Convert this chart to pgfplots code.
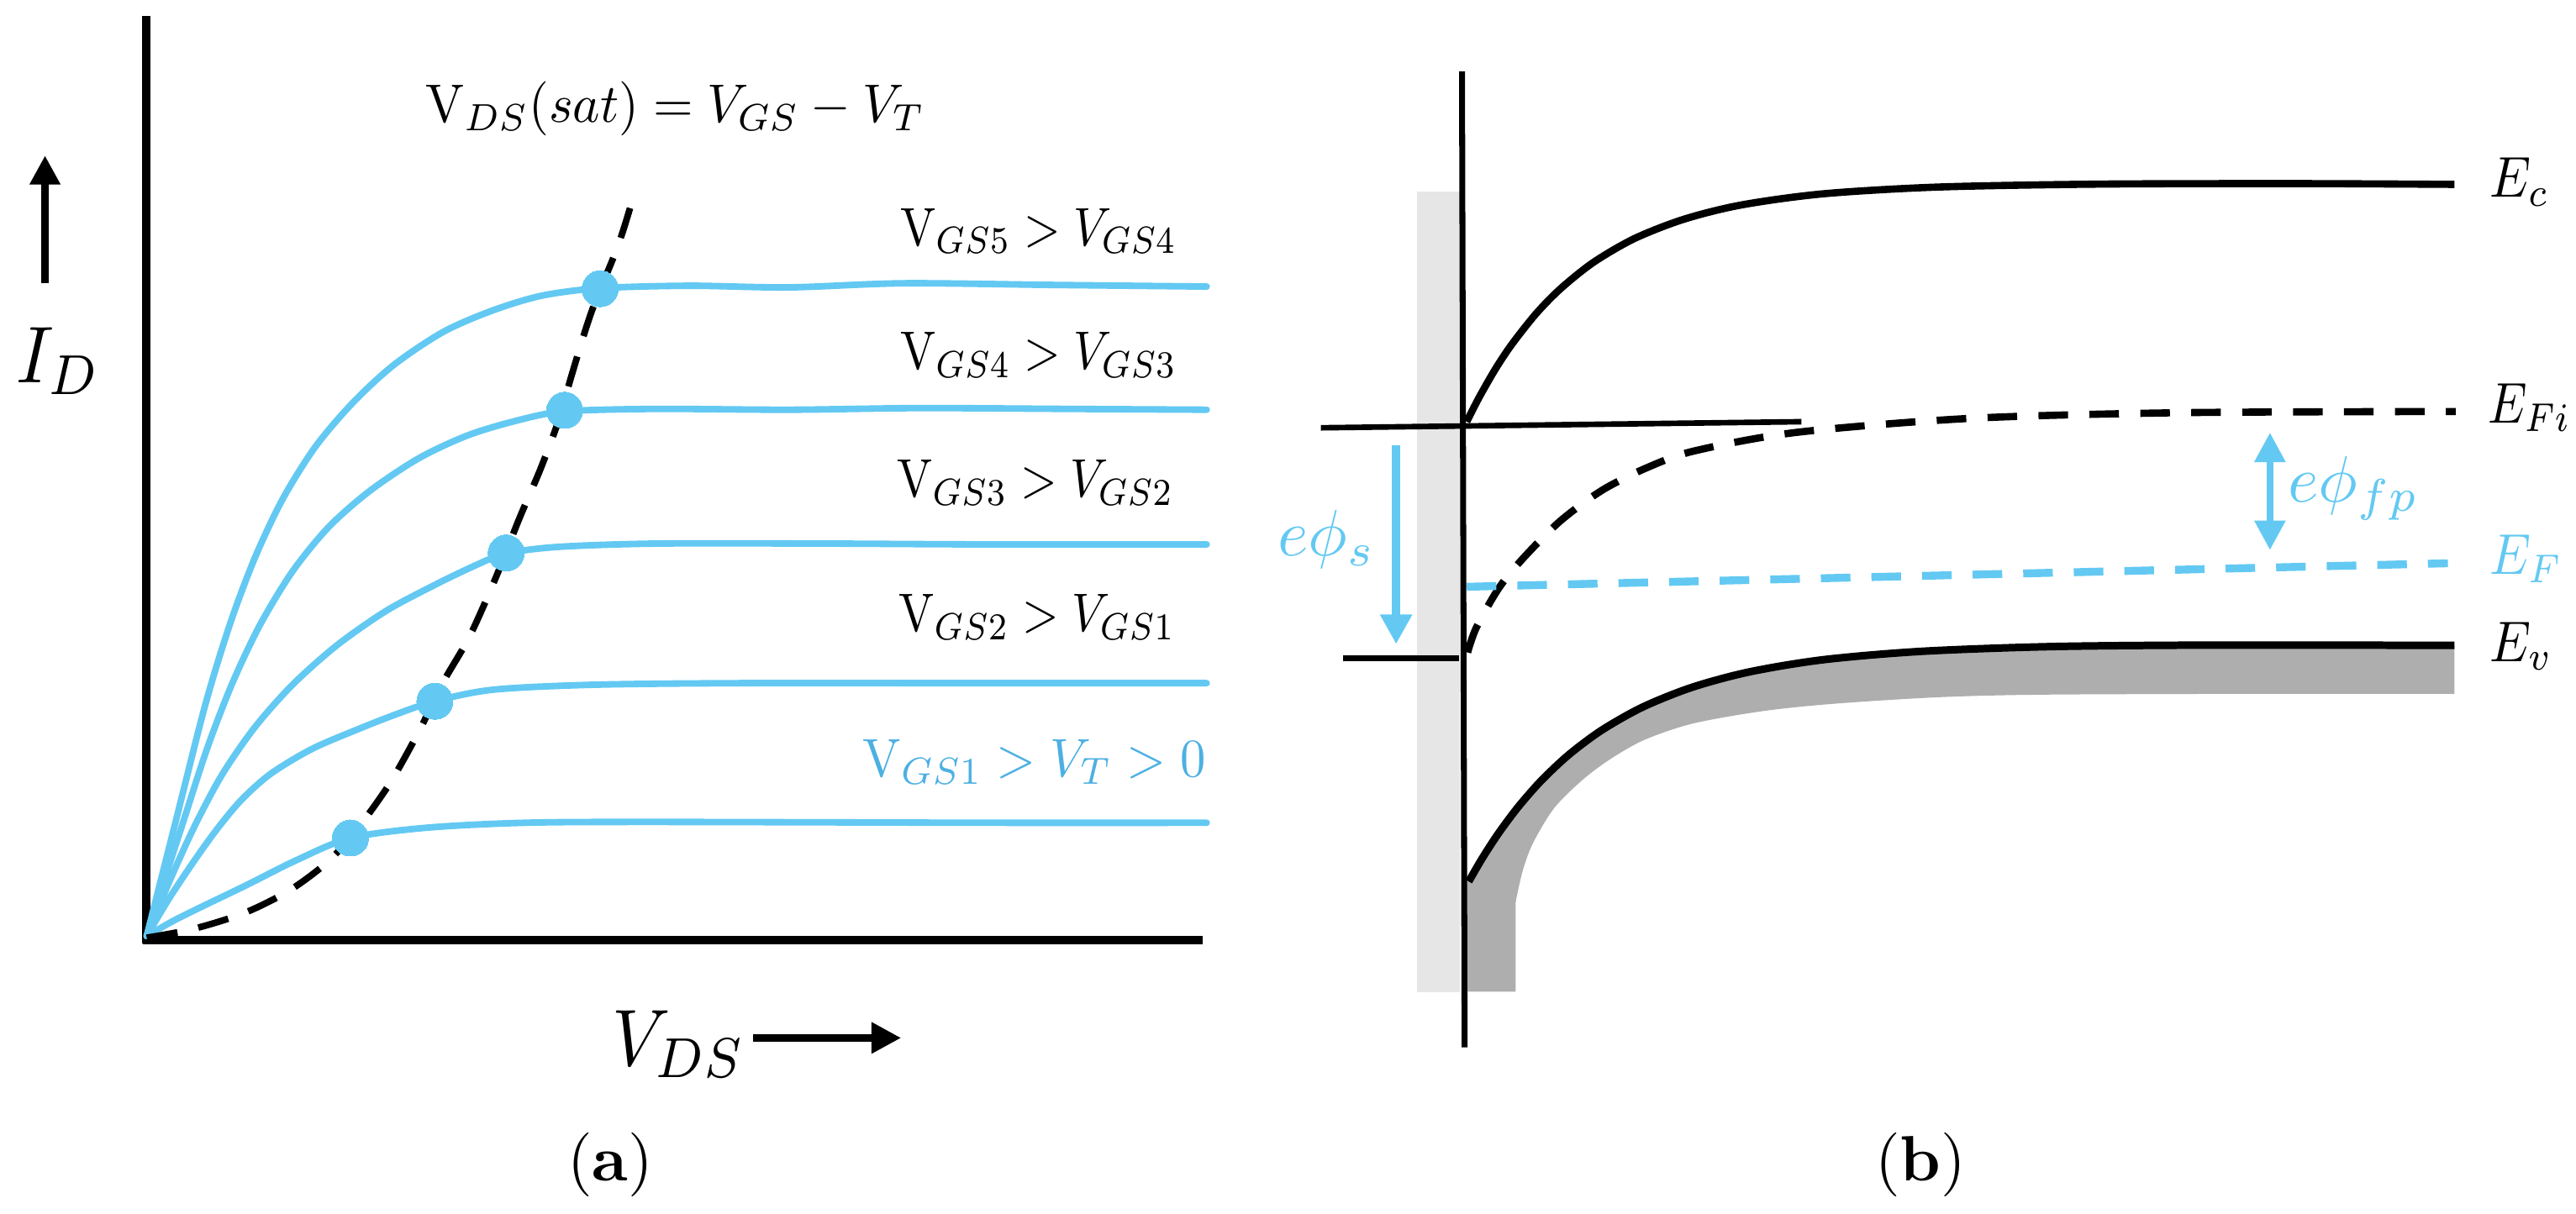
\documentclass[border=0pt]{standalone}
\usepackage{pgfplots}
\pgfplotsset{compat=1.18}
\usepgfplotslibrary{fillbetween}
\usetikzlibrary{arrows.meta}

\definecolor{cblue}{RGB}{99,201,242}
\definecolor{tblue}{RGB}{77,176,226}
\definecolor{lgrey}{RGB}{230,230,230}
\definecolor{dgrey}{RGB}{174,174,174}

\tikzset{
    lbl/.style={inner sep=0pt, scale=1.65},
    elbl/.style={inner sep=0pt, scale=1.75, xscale=0.9},
    big/.style={inner sep=0pt, scale=2.45, xscale=0.9},
}

\begin{document}
\begin{tikzpicture}
% one hidden axis in picture units (y downwards) holds both panels
\begin{axis}[
    scale only axis, width=784pt, height=369.5pt,
    xmin=0, xmax=1568, ymin=0, ymax=739, y dir=reverse,
    hide axis, clip=false,
]
\coordinate (BL) at (axis cs:0,739);
\coordinate (TR) at (axis cs:1568,0);

%% ---------- panel (a): output characteristics ----------
\addplot[line width=2.5pt] coordinates {(89.2,9.7) (89.2,574.5)};
\addplot[line width=2.4pt] coordinates {(87,572.4) (732.2,572.4)};

\addplot[cblue, line width=2pt, line cap=round, smooth] coordinates {
 (89.3,570) (107,500) (125,429) (140,380) (155,340) (172,304) (192,272)
 (215,245) (240,222) (270,202) (300,189) (330,180) (365.3,175.5)
 (420,174) (480,175) (550,172.5) (640,173.5) (734.5,174.5)};
\addplot[cblue, line width=2pt, line cap=round, smooth] coordinates {
 (89.3,570) (100,536) (112,499) (126,456) (141,417) (158,381) (178,348)
 (200,321) (225,299) (255,279) (285,265) (315,256) (343.7,250.5)
 (400,249) (480,249.5) (560,248.5) (650,249) (734.5,249.5)};
\addplot[cblue, line width=2pt, line cap=round, smooth] coordinates {
 (89.3,570) (103,537) (118,504) (135,472) (155,443) (178,417) (205,393)
 (235,372) (265,356) (290,344) (308.1,337) (340,333) (400,331) (500,331)
 (600,331.5) (734.5,331.5)};
\addplot[cblue, line width=2pt, line cap=round, smooth] coordinates {
 (89.3,570) (103,547) (118,524.5) (132,505) (147,487) (165,471) (190,456)
 (218,444) (241,435) (264.7,427) (300,420) (360,417) (450,416) (600,416)
 (734.5,416)};
\addplot[cblue, line width=2pt, line cap=round, smooth] coordinates {
 (89.3,570) (105,561) (121,553) (150,539) (180,524) (213.3,510.3) (260,504)
 (320,501) (400,500.5) (600,501) (734.5,501)};

% saturation locus
\addplot[black, line width=2pt, dash pattern=on 9.5pt off 6.5pt, smooth] coordinates {
 (89.3,571) (117.5,565.7) (148.8,555.9) (176.2,542.2) (199.7,524.6) (217.3,505)
 (236.9,477.6) (254.5,446.3) (270,415) (285.8,387.6) (301.5,352.4) (316,316)
 (328.9,285.8) (340,256) (348.4,227) (360,190) (375.8,150.7) (383.7,126)};

\addplot[only marks, mark=*, mark size=5.5pt,
         mark options={draw=cblue, fill=cblue, line width=0pt}] coordinates {
 (213.3,510.3) (264.7,427) (308.1,336.7) (343.7,249.8) (365.3,175.8)};

% axis arrows
\addplot[line width=2.3pt, -{Triangle[width=8.8pt, length=8.8pt]}]
  coordinates {(27.4,172.3) (27.4,94.7)};
\addplot[line width=2.2pt, -{Triangle[width=9pt, length=9pt]}]
  coordinates {(458.5,632) (548.5,632)};

\node[big, anchor=base west] at (axis cs:9,233) {$I_D$};
\node[big, anchor=base west] at (axis cs:372,649) {$V_{DS}$};

\node[lbl, xscale=0.95, anchor=base west] at (axis cs:258.4,74.4)
  {$\mathrm{V}_{DS}(sat) = V_{GS} - V_T$};
\node[lbl, xscale=0.87, anchor=base east] at (axis cs:717,149.4) {$\mathrm{V}_{GS5} > V_{GS4}$};
\node[lbl, xscale=0.87, anchor=base east] at (axis cs:717,224.8) {$\mathrm{V}_{GS4} > V_{GS3}$};
\node[lbl, xscale=0.87, anchor=base east] at (axis cs:715,302.7) {$\mathrm{V}_{GS3} > V_{GS2}$};
\node[lbl, xscale=0.87, anchor=base east] at (axis cs:716,384.4) {$\mathrm{V}_{GS2} > V_{GS1}$};
\node[lbl, xscale=0.94, anchor=base east, text=tblue] at (axis cs:734.5,472.8)
  {$\mathrm{V}_{GS1} > V_T > 0$};

\node[anchor=base, inner sep=0pt, scale=1.95] at (axis cs:371.5,719) {(\textbf{a})};

%% ---------- panel (b): band diagram ----------
\addplot[fill=lgrey, draw=none] coordinates {
 (862.3,116.8) (888.6,116.8) (888.6,604) (862.3,604)} -- cycle;

% valence band shading
\addplot[draw=none, name path=evtop, smooth] coordinates {
 (894,536.8) (902,523.0) (912,507.6) (924,491.5) (938,475.5) (955,459.5)
 (975,444.6) (1000,430.5) (1030,418.5) (1065,409.1) (1110,401.7)
 (1170,396.6) (1250,393.7) (1350,392.8) (1494,393)};
\addplot[draw=none, name path=evbot, smooth] coordinates {
 (922.5,549.5) (926.8,530.4) (933.1,513.4) (945.9,492.2) (962.8,475.3)
 (979.8,462.5) (1001,450.5) (1030.7,440.5) (1073.1,433) (1115.5,428.6)
 (1179,424.6) (1242.8,423) (1370,422.5) (1494,422.5)};
\addplot[dgrey] fill between[of=evtop and evbot];
\addplot[fill=dgrey, draw=none] coordinates {
 (891,537) (894,536.8) (902,523.0) (912,507.6) (922.5,493.5)
 (922.5,603.8) (891,603.8)} -- cycle;

\addplot[line width=1.8pt] coordinates {(889.9,43.4) (891.5,637.8)};
\addplot[line width=1.7pt] coordinates {(804,260.5) (1096.5,256.8)};
\addplot[line width=1.7pt] coordinates {(817.7,400.7) (888,400.7)};

% E_c
\addplot[line width=2.2pt, smooth] coordinates {
 (892.8,256.8) (900,242.6) (910,225.1) (920,210.0) (935,191.0) (950,175.7)
 (970,159.7) (995,145.2) (1025,133.5) (1060,124.8) (1110,118.0)
 (1180,113.9) (1280,112.1) (1400,111.8) (1494,112.3)};
% E_v
\addplot[line width=2.3pt, smooth] coordinates {
 (894,536.8) (902,523.0) (912,507.6) (924,491.5) (938,475.5) (955,459.5)
 (975,444.6) (1000,430.5) (1030,418.5) (1065,409.1) (1110,401.7)
 (1170,396.6) (1250,393.7) (1350,392.8) (1494,393)};
% E_Fi
\addplot[line width=2.2pt, dash pattern=on 9pt off 6.5pt, smooth] coordinates {
 (893.3,397.3) (898.7,382) (912.4,358) (927.7,339.3) (949.9,317.1)
 (975.4,298.4) (1002.7,284.7) (1031.7,274.5) (1094.3,263.2) (1200.4,254.7)
 (1327.6,251.3) (1494.7,250.6)};
% E_F
\addplot[cblue, line width=2.4pt, dash pattern=on 9pt off 6.4pt] coordinates {
 (892.8,357.3) (1490,343)};

% potential arrows
\addplot[cblue, line width=2.5pt, -{Triangle[width=9.2pt, length=9pt]}]
  coordinates {(849.8,271.1) (849.8,392.2)};
\addplot[cblue, line width=2.1pt,
  {Triangle[width=9pt, length=9pt]}-{Triangle[width=9pt, length=9pt]}]
  coordinates {(1381.7,263.4) (1381.7,335)};

\node[anchor=base west, inner sep=0pt, text=cblue, scale=2] at (axis cs:777,338.5) {$e\phi_s$};
\node[anchor=base west, inner sep=0pt, text=cblue, scale=2] at (axis cs:1392,305.5) {$e\phi_{fp}$};

\node[elbl, anchor=base west] at (axis cs:1515,120.2) {$E_c$};
\node[elbl, xscale=0.95, anchor=base west] at (axis cs:1514,257.4) {$E_{Fi}$};
\node[elbl, anchor=base west, text=cblue] at (axis cs:1515,349.6) {$E_F$};
\node[elbl, anchor=base west] at (axis cs:1515,402.8) {$E_v$};

\node[anchor=base, inner sep=0pt, scale=1.95] at (axis cs:1169,719) {(\textbf{b})};
\end{axis}
\pgfresetboundingbox
\useasboundingbox (BL) rectangle (TR);
\end{tikzpicture}
\end{document}
